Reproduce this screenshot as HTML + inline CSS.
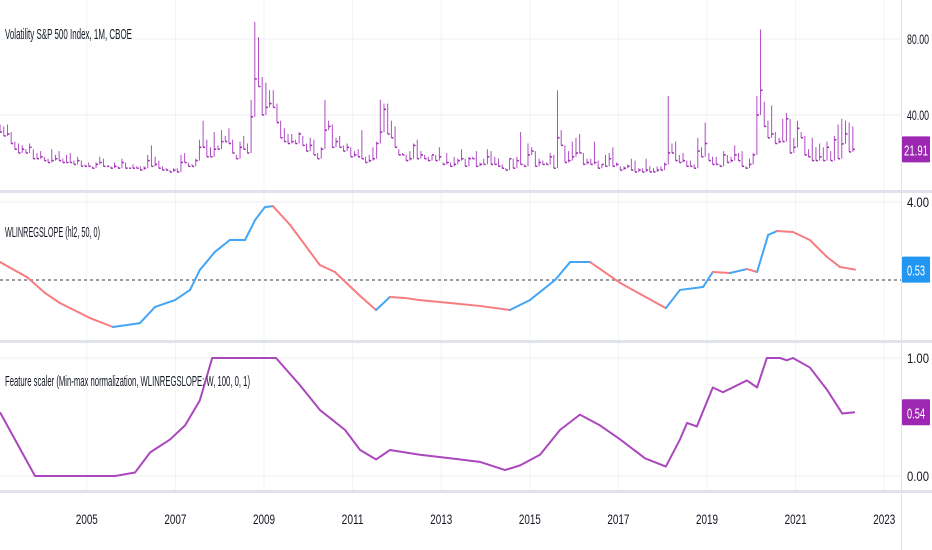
<!DOCTYPE html>
<html><head><meta charset="utf-8"><style>
html,body{margin:0;padding:0;background:#fff;}
svg{display:block;font-family:"Liberation Sans",sans-serif;}
</style></head><body>
<svg id="chart" width="932" height="550" viewBox="0 0 932 550" xmlns="http://www.w3.org/2000/svg">
<g id="grid"></g>
<g id="p1"></g>
<g id="p2"></g>
<g id="p3"></g>
<g id="axes"></g>
<text x="5" y="39" font-size="15" textLength="127" lengthAdjust="spacingAndGlyphs" fill="#131722">Volatility S&amp;P 500 Index, 1M, CBOE</text>
<text x="5" y="237" font-size="15" textLength="95" lengthAdjust="spacingAndGlyphs" fill="#131722">WLINREGSLOPE (hl2, 50, 0)</text>
<text x="5" y="386" font-size="15" textLength="245" lengthAdjust="spacingAndGlyphs" fill="#131722">Feature scaler (Min-max normalization, WLINREGSLOPE: W, 100, 0, 1)</text>
</svg>
<script>
const vixClose = [31,29,30,25,22,20,22,20,23,17,17,18, 16,15,16,17,16,15,15,15,14,16,13,13, 13,12,14,15,13,13,12,13,12,15,12,12, 12,12,11,12,16,13,14,12,11,11,10,11, 10,15,15,13,13,16,23,23,18,18,22,22, 26,26,25,20,17,23,22,20,39,59,55,40, 44,46,44,36,28,26,25,26,25,30,24,21, 24,19,17,22,32,34,23,26,23,21,23,18, 19,18,17,15,16,17,25,31,43,30,28,23, 19,19,16,17,24,17,19,17,16,19,16,18, 14,15,13,14,16,17,13,17,17,13,14,14, 18,14,14,13,12,11,17,12,16,14,13,19, 21,13,15,14,14,18,12,28,24,15,16,18, 20,20,14,15,14,15,12,14,13,17,13,14, 11,12,13,11,10,11,10,11,10,10,11,11, 14,20,20,16,15,16,13,13,12,21,18,25, 16,14,14,13,19,15,16,19,16,13,12,14, 19,40,53,34,28,30,25,26,26,38,20,23, 33,28,19,18,16,16,18,16,23,16,27,17, 24.8,30.1,20.6,21.91];
const vixHigh = [35,34,35,31,26,25,24,22,25,22,20,21, 18,17,22,19,21,17,19,20,16,18,16,14, 15,13,15,18,17,13,13,15,13,17,15,12, 14,13,13,13,19,24,18,16,13,12,11,12, 12,19,20,15,14,17,27,37,27,23,31,24, 32,29,33,27,19,26,29,25,48,89,81,60, 57,53,53,46,37,33,30,30,27,31,29,25, 28,27,20,23,48,37,35,28,29,24,25,23, 21,22,32,18,19,23,26,48,46,46,37,34, 22,20,19,21,25,27,21,19,18,19,19,23, 15,20,15,18,17,22,17,18,18,21,15,17, 22,21,18,17,14,12,17,17,18,31,14,25, 23,21,17,16,15,20,19,53,32,24,21,26, 28,30,20,17,17,26,16,14,19,20,23,15, 13,13,14,17,16,12,12,17,13,12,13,13, 15,50,25,26,19,20,16,16,14,28,23,36, 20,18,18,14,21,19,18,24,20,21,13,17, 20,50,85,47,37,45,31,28,38,41,38,28, 37,31,29,22,28,23,25,23,26,21,29,35, 38,37,36,34];
const slopeTimes = [2003.04,2003.65,2004.06,2004.39,2005.07,2005.59,2006.2,2006.54,2006.99,2007.33,2007.55,2007.89,2008.23,2008.57,2008.8,2009.02,2009.2,2009.59,2010.26,2010.6,2011.17,2011.53,2011.84,2012.18,2012.52,2013.2,2013.87,2014.55,2015.0,2015.57,2015.91,2016.36,2017.04,2017.49,2018.07,2018.39,2018.91,2019.13,2019.52,2019.9,2020.13,2020.38,2020.58,2020.94,2021.32,2021.71,2022.0,2022.34];
const slopeValues = [0.92,0.15,-0.67,-1.18,-1.95,-2.41,-2.21,-1.38,-1.03,-0.51,0.51,1.44,2.05,2.05,3.08,3.74,3.79,2.82,0.77,0.41,-0.82,-1.54,-0.87,-0.92,-1.03,-1.18,-1.33,-1.54,-1.03,0,0.92,0.92,-0.15,-0.72,-1.44,-0.51,-0.36,0.41,0.36,0.56,0.41,2.31,2.51,2.46,2.05,1.18,0.67,0.53];
const scalerTimes = [2003.04,2003.83,2004.39,2005.64,2006.09,2006.43,2006.88,2007.22,2007.55,2007.83,2008.46,2009.27,2009.81,2010.26,2010.83,2011.17,2011.53,2011.84,2012.52,2013.2,2013.87,2014.44,2014.78,2015.23,2015.68,2016.13,2016.58,2017.04,2017.6,2018.07,2018.39,2018.55,2018.77,2019.13,2019.36,2019.9,2020.13,2020.35,2020.65,2020.8,2020.94,2021.32,2021.71,2022.05,2022.34];
const scalerValues = [0.54,0,0,0,0.03,0.2,0.31,0.43,0.64,1.0,1.0,1.0,0.77,0.56,0.39,0.22,0.14,0.22,0.18,0.15,0.12,0.05,0.09,0.18,0.39,0.52,0.43,0.31,0.15,0.08,0.31,0.45,0.42,0.75,0.71,0.81,0.75,1.0,1.0,0.98,1.0,0.92,0.73,0.53,0.54];
const yearTicks = [2005,2007,2009,2011,2013,2015,2017,2019,2021,2023];
const p1Ticks = [40,80];
const p2Ticks = [4];
const p3Ticks = [0,1];

const NS="http://www.w3.org/2000/svg";
const X0=2003.04, PXY=44.3, RIGHT=901;
const x=t=>(t-X0)*PXY;
const y1=v=>191-v*1.9;
const y2=v=>280-v*19.5;
const y3=v=>476-v*118;
function mk(parent,tag,attrs){const e=document.createElementNS(NS,tag);for(const k in attrs)e.setAttribute(k,attrs[k]);document.getElementById(parent).appendChild(e);return e;}

yearTicks.forEach(yr=>{
  const l=mk('grid','line',{x1:x(yr),x2:x(yr),y1:0,y2:491,stroke:'#f2f3f6','stroke-width':1});
  
  
  const t=mk('axes','text',{x:x(yr),y:524,'font-size':14,'text-anchor':'middle',fill:'#131722',textLength:22,lengthAdjust:'spacingAndGlyphs'});
  t.textContent=yr;
  
  
});
function hgrid(vals,fy){vals.forEach(v=>{
  const l=mk('grid','line',{x1:0,x2:RIGHT,y1:fy(v),y2:fy(v),stroke:'#eeeff3','stroke-width':1});
  
  
  const t=mk('axes','text',{x:907,y:fy(v)+5,'font-size':14,fill:'#131722',textLength:22,lengthAdjust:'spacingAndGlyphs'});
  t.textContent=v.toFixed(2);
  
  
});}
hgrid(p1Ticks,y1);hgrid(p2Ticks,y2);hgrid(p3Ticks,y3);

[191,341,491].forEach(sy=>{
  const l=mk('axes','rect',{x:0,y:sy-1,width:932,height:3,fill:'#e0e3eb'});
  
  
});
const ab=mk('axes','line',{x1:RIGHT+0.5,x2:RIGHT+0.5,y1:0,y2:550,stroke:'#e0e3eb','stroke-width':1});



vixClose.forEach((c,i)=>{
  const t=2003+(i+0.5)/12, xx=x(t);
  const o=i>0?vixClose[i-1]:c;
  const lo=Math.min(o,c);
  const b=mk('p1','line',{x1:xx,x2:xx,y1:y1(vixHigh[i]),y2:y1(lo),stroke:'#b04cc4','stroke-width':1});
  
  
  const k=mk('p1','line',{x1:xx,x2:xx+2,y1:y1(c),y2:y1(c),stroke:'#9c27b0','stroke-width':1.5});
  
  
});

const z=mk('p2','line',{x1:0,x2:RIGHT,y1:y2(0),y2:y2(0),stroke:'#787b86','stroke-width':1.5,'stroke-dasharray':'3 3'});


for(let i=1;i<slopeValues.length;i++){
  const up=slopeValues[i]>=slopeValues[i-1];
  const s=mk('p2','line',{x1:x(slopeTimes[i-1]),y1:y2(slopeValues[i-1]),x2:x(slopeTimes[i]),y2:y2(slopeValues[i]),stroke:up?'#42a5f5':'#f77c80','stroke-width':2,'stroke-linecap':'round'});
  
  
}
const pl=mk('p3','polyline',{points:scalerTimes.map((t,i)=>x(t)+','+y3(scalerValues[i])).join(' '),fill:'none',stroke:'#ab47bc','stroke-width':2,'stroke-linejoin':'round'});



function lastLabel(val,fy,color,name){
  const cy=fy(val);
  const r=mk('axes','rect',{x:902,y:cy-13,width:28,height:26,fill:color,rx:1});
  
  
  const t=mk('axes','text',{x:916,y:cy+6,'font-size':15,'text-anchor':'middle',fill:'#fff',textLength:name==='vix-last'?24:18,lengthAdjust:'spacingAndGlyphs'});
  t.textContent=val.toFixed(2);
  
  
}
lastLabel(vixClose[vixClose.length-1],y1,'#9c27b0','vix-last');
lastLabel(slopeValues[slopeValues.length-1],y2,'#2196f3','slope-last');
lastLabel(scalerValues[scalerValues.length-1],y3,'#9c27b0','scaler-last');
</script>
</body></html>
